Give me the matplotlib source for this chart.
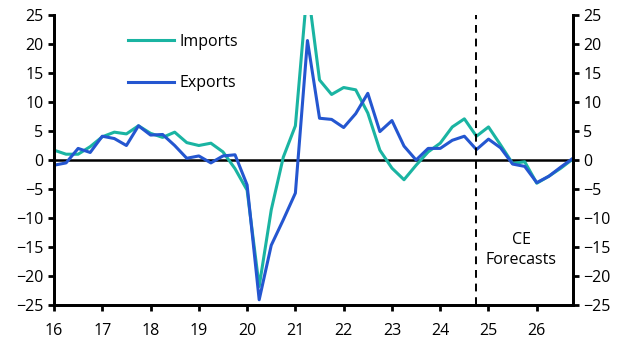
import numpy as np
import matplotlib.pyplot as plt

plt.rcParams['font.family'] = ['Open Sans', 'DejaVu Sans']

# quarterly data, 2016Q1 .. 2026Q4 (x = year 16..26.75)
quarters = np.arange(16, 27, 0.25)

imports = [1.7, 1.0, 1.0, 2.3, 4.0, 4.8, 4.5, 5.9, 4.6, 3.9, 4.8, 3.0,
           2.5, 2.9, 1.4, -1.5, -5.2, -21.8, -8.6, 0.5, 5.9, 30.0, 13.8, 11.3,
           12.5, 12.1, 8.1, 1.7, -1.4, -3.4, -0.9, 1.4, 2.9, 5.7, 7.1, 4.1,
           5.7, 2.6, -0.6, -0.3, -4.0, -2.8, -1.4, 0.2]
exports = [-0.9, -0.5, 2.0, 1.3, 4.1, 3.7, 2.5, 5.9, 4.3, 4.4, 2.5, 0.3,
           0.7, -0.5, 0.7, 0.9, -4.3, -24.1, -14.7, -10.3, -5.7, 20.6, 7.2, 7.0,
           5.6, 8.0, 11.5, 4.9, 6.8, 2.4, 0.0, 2.0, 2.0, 3.4, 4.1, 1.8,
           3.6, 2.1, -0.7, -1.1, -3.9, -2.8, -1.2, 0.3]

years = list(range(16, 27))
yticks = list(range(-25, 30, 5))
forecast_start = 24.75

teal = '#1ab4a2'
blue = '#2456d0'

fig = plt.figure(figsize=(6.3, 3.54), dpi=100)
ax = fig.add_axes([0.0857, 0.1384, 0.8238, 0.8192])

ax.plot(quarters, imports, color=teal, lw=2.2, label='Imports')
ax.plot(quarters, exports, color=blue, lw=2.2, label='Exports')
ax.axhline(0, color='black', lw=1.8, zorder=1)
ax.axvline(forecast_start, color='black', lw=1.4, ls=(0, (4, 3)))

ax.set_xlim(16, 26.75)
ax.set_ylim(-25, 25)
ax.set_xticks(years)
ax.set_xticklabels([str(y) for y in years])
ax.set_yticks(yticks)

ax2 = ax.twinx()
ax2.set_ylim(-25, 25)
ax2.set_yticks(yticks)

for a in (ax, ax2):
    for s in a.spines.values():
        s.set_linewidth(2)
    a.spines['top'].set_visible(False)
    a.tick_params(width=2, length=4, labelsize=11.5, colors='black')
ax.tick_params(axis='x', pad=9)

ax.text(25.68, -15.5, 'CE\nForecasts', ha='center', va='center',
        fontsize=11.5, linespacing=1.4)

ax.legend(loc='upper left', bbox_to_anchor=(0.115, 0.985), frameon=False,
          fontsize=11.5, handlelength=2.9, handletextpad=0.3,
          labelspacing=1.6)

fig.savefig('out.png', dpi=100)
